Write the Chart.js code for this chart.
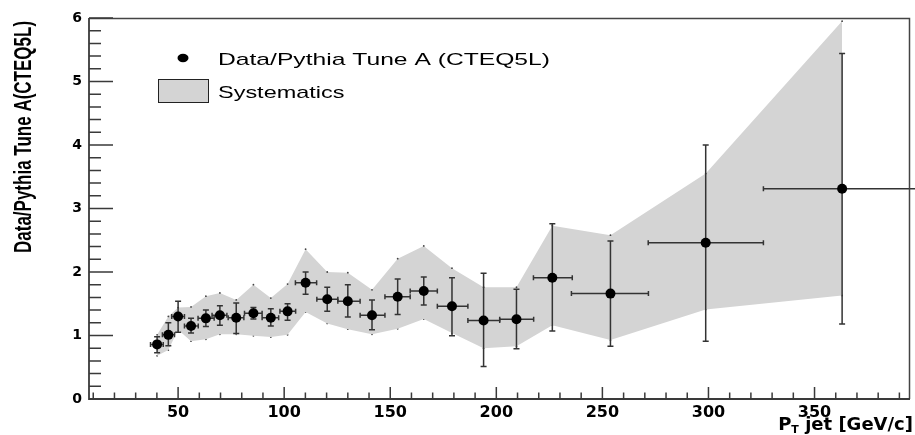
<!DOCTYPE html>
<html>
<head>
<meta charset="utf-8">
<script src="https://cdn.jsdelivr.net/npm/chart.js@4.4.1/dist/chart.umd.min.js"></script>
<style>
  html, body { margin: 0; padding: 0; background: #fff; }
  canvas { display: block; }
</style>
</head>
<body>
<canvas id="c" width="915" height="435"></canvas>
<script>
// points: Data / Pythia Tune A, with stat error bars
var ptX  = [40.1, 45.4, 50, 56.1, 63.1, 69.7, 77.4, 85.5, 93.7, 101.6, 110.1, 120.3, 130, 141.4, 153.5, 165.8, 179.1, 194, 209.5, 226.4, 253.8, 298.7, 363];
var ptY  = [0.86, 1.01, 1.30, 1.15, 1.27, 1.32, 1.28, 1.35, 1.28, 1.38, 1.83, 1.57, 1.54, 1.32, 1.61, 1.70, 1.46, 1.235, 1.257, 1.91, 1.66, 2.46, 3.31];
var yHigh = [0.98, 1.20, 1.54, 1.27, 1.40, 1.47, 1.51, 1.44, 1.42, 1.50, 2.00, 1.76, 1.80, 1.56, 1.89, 1.92, 1.91, 1.98, 1.73, 2.76, 2.49, 4.00, 5.44];
var yLow  = [0.73, 0.84, 1.05, 1.04, 1.14, 1.16, 1.03, 1.26, 1.15, 1.24, 1.65, 1.38, 1.29, 1.09, 1.33, 1.48, 0.995, 0.51, 0.79, 1.07, 0.83, 0.91, 1.18];
var xLow  = [37, 42.6, 47, 53, 59.4, 66, 73.6, 81.3, 89.6, 98, 105.3, 115.4, 125.3, 135.8, 147.5, 159.4, 172.2, 186.6, 201.6, 217.5, 235.4, 271.6, 325.9];
var xHigh = [43, 48.3, 53, 59.5, 67, 73, 81, 89.6, 97.4, 105.4, 115.3, 125.3, 135.8, 147.5, 159.4, 172.2, 186.6, 201.6, 217.6, 235.8, 271.7, 325.9, 400];

// systematics band
var bandUpper = [1.01, 1.30, 1.44, 1.45, 1.62, 1.67, 1.56, 1.80, 1.59, 1.81, 2.36, 2.00, 1.99, 1.72, 2.21, 2.41, 2.06, 1.76, 1.76, 2.73, 2.58, 3.55, 5.95];
var bandLower = [0.68, 0.77, 1.09, 0.91, 0.94, 1.02, 1.02, 0.995, 0.975, 1.01, 1.37, 1.19, 1.10, 1.02, 1.105, 1.26, 1.04, 0.80, 0.83, 1.16, 0.93, 1.41, 1.63];

var xTickLabels = [50, 100, 150, 200, 250, 300, 350];
var yTickLabels = [0, 1, 2, 3, 4, 5, 6];

var legendLabels = ['Data/Pythia Tune A (CTEQ5L)', 'Systematics'];
var yTitle = 'Data/Pythia Tune A(CTEQ5L)';

var bandColor = '#d4d4d4';
var axisColor = '#3a3a3a';

function xy(xs, ys) {
    var out = [];
    for (let i = 0; i < xs.length; i++) {
        out.push({x: xs[i], y: ys[i]});
    }
    return out;
}

// error bars, drawn just before the markers
var errorBars = {
    id: 'errorBars',
    beforeDatasetDraw(chart, args) {
        if (args.index !== 0) return;
        var ctx = chart.ctx, sx = chart.scales.x, sy = chart.scales.y;
        ctx.save();
        ctx.strokeStyle = '#333';
        ctx.lineWidth = 1.5;
        for (let i = 0; i < ptX.length; i++) {
            var px = sx.getPixelForValue(ptX[i]);
            var py = sy.getPixelForValue(ptY[i]);
            var y1 = sy.getPixelForValue(yHigh[i]);
            var y2 = sy.getPixelForValue(yLow[i]);
            var x1 = sx.getPixelForValue(xLow[i]);
            var x2 = sx.getPixelForValue(xHigh[i]);
            ctx.beginPath();
            ctx.moveTo(px, y1); ctx.lineTo(px, y2);
            ctx.moveTo(px - 3, y1); ctx.lineTo(px + 3, y1);
            ctx.moveTo(px - 3, y2); ctx.lineTo(px + 3, y2);
            ctx.moveTo(x1, py); ctx.lineTo(x2, py);
            ctx.moveTo(x1, py - 2.5); ctx.lineTo(x1, py + 2.5);
            ctx.moveTo(x2, py - 2.5); ctx.lineTo(x2, py + 2.5);
            ctx.stroke();
        }
        ctx.restore();
    }
};

// ROOT-style frame, inward ticks, legend and titles
var decorations = {
    id: 'decorations',
    afterDraw(chart) {
        var ctx = chart.ctx, a = chart.chartArea;
        var sx = chart.scales.x, sy = chart.scales.y;
        var top = Math.round(a.top) + 0.5, right = Math.round(a.right) - 0.5;
        ctx.save();

        // frame
        ctx.strokeStyle = '#444';
        ctx.lineWidth = 1.5;
        ctx.beginPath();
        ctx.moveTo(a.left, top); ctx.lineTo(right, top); ctx.lineTo(right, a.bottom);
        ctx.stroke();
        ctx.strokeStyle = axisColor;
        ctx.lineWidth = 1.8;
        ctx.beginPath();
        ctx.moveTo(a.left, a.top); ctx.lineTo(a.left, a.bottom); ctx.lineTo(a.right, a.bottom);
        ctx.stroke();

        // y ticks
        ctx.lineWidth = 1.5;
        ctx.beginPath();
        for (let k = 0; k <= 30; k++) {
            var v = k * 0.2;
            var p = sy.getPixelForValue(v);
            var len = (k % 5 === 0) ? 24 : 12;
            ctx.moveTo(a.left, p); ctx.lineTo(a.left + len, p);
        }
        // x ticks
        for (let v = 10; v <= sx.max; v += 10) {
            var q = sx.getPixelForValue(v);
            var l2 = (v % 50 === 0) ? 12 : 6.5;
            ctx.moveTo(q, a.bottom); ctx.lineTo(q, a.bottom - l2);
        }
        ctx.stroke();

        // legend
        ctx.fillStyle = '#000';
        ctx.beginPath();
        ctx.ellipse(183, 58, 5.5, 4.2, 0, 0, Math.PI * 2);
        ctx.fill();
        ctx.fillStyle = bandColor;
        ctx.fillRect(158.5, 79.5, 50, 23);
        ctx.strokeStyle = '#222';
        ctx.lineWidth = 1;
        ctx.strokeRect(158.5, 79.5, 50, 23);

        ctx.fillStyle = '#000';
        ctx.font = '17px "Liberation Sans", Arial, sans-serif';
        ctx.textBaseline = 'alphabetic';
        ctx.textAlign = 'left';
        ctx.save();
        ctx.translate(218, 65);
        ctx.scale(1.45, 1);
        ctx.fillText(legendLabels[0], 0, 0);
        ctx.restore();
        ctx.save();
        ctx.translate(218, 97.5);
        ctx.scale(1.38, 1);
        ctx.fillText(legendLabels[1], 0, 0);
        ctx.restore();

        // y title (rotated, stretched)
        ctx.save();
        ctx.translate(31, 253);
        ctx.rotate(-Math.PI / 2);
        ctx.scale(1, 1.38);
        ctx.font = 'bold 17px "Liberation Sans", Arial, sans-serif';
        ctx.fillText(yTitle, 0, 0);
        ctx.restore();

        // x title with subscript
        ctx.font = 'bold 18px "DejaVu Sans", sans-serif';
        var tail = ' jet [GeV/c]';
        var wTail = ctx.measureText(tail).width;
        var wP = ctx.measureText('P').width;
        ctx.font = 'bold 11px "DejaVu Sans", sans-serif';
        var wT = ctx.measureText('T').width;
        var x0 = 913 - wTail - wT - wP;
        ctx.font = 'bold 18px "DejaVu Sans", sans-serif';
        ctx.fillText('P', x0, 430);
        ctx.fillText(tail, x0 + wP + wT, 430);
        ctx.font = 'bold 11px "DejaVu Sans", sans-serif';
        ctx.fillText('T', x0 + wP, 433);

        ctx.restore();
    }
};

var chart = new Chart(document.getElementById('c').getContext('2d'), {
    type: 'scatter',
    data: {
        datasets: [
            {
                label: legendLabels[0],
                data: xy(ptX, ptY),
                pointRadius: 5,
                pointHoverRadius: 5,
                pointBackgroundColor: '#000',
                pointBorderColor: '#000',
                pointBorderWidth: 0,
                order: 0,
            },
            {
                type: 'line',
                label: legendLabels[1],
                data: xy(ptX, bandUpper),
                borderWidth: 0,
                borderColor: 'rgba(0,0,0,0)',
                backgroundColor: bandColor,
                fill: '+1',
                tension: 0,
                pointRadius: 0.9,
                pointBackgroundColor: '#444',
                pointBorderWidth: 0,
                order: 1,
            },
            {
                type: 'line',
                label: 'lower',
                data: xy(ptX, bandLower),
                borderWidth: 0,
                borderColor: 'rgba(0,0,0,0)',
                fill: false,
                tension: 0,
                pointRadius: 0.9,
                pointBackgroundColor: '#444',
                pointBorderWidth: 0,
                order: 2,
            },
        ],
    },
    options: {
        responsive: false,
        animation: false,
        devicePixelRatio: 1,
        layout: {padding: {top: 18, right: 2, left: 0, bottom: 0}},
        plugins: {
            legend: {display: false},
            tooltip: {enabled: false},
        },
        scales: {
            x: {
                type: 'linear',
                min: 8,
                max: 395,
                grid: {display: false, drawTicks: false},
                border: {display: false},
                afterBuildTicks: function (s) {
                    s.ticks = xTickLabels.map(function (v) { return {value: v}; });
                },
                afterFit: function (s) { s.height = 36; },
                ticks: {
                    color: '#000',
                    padding: 4,
                    maxRotation: 0,
                    autoSkip: false,
                    font: {family: '"DejaVu Sans", sans-serif', size: 16, weight: 'bold'},
                },
            },
            y: {
                type: 'linear',
                min: 0,
                max: 6,
                grid: {display: false, drawTicks: false},
                border: {display: false},
                afterBuildTicks: function (s) {
                    s.ticks = yTickLabels.map(function (v) { return {value: v}; });
                },
                afterFit: function (s) { s.width = 89; },
                ticks: {
                    color: '#000',
                    padding: 7,
                    font: {family: '"DejaVu Sans", sans-serif', size: 14, weight: 'bold'},
                },
            },
        },
    },
    plugins: [errorBars, decorations],
});
</script>
</body>
</html>
